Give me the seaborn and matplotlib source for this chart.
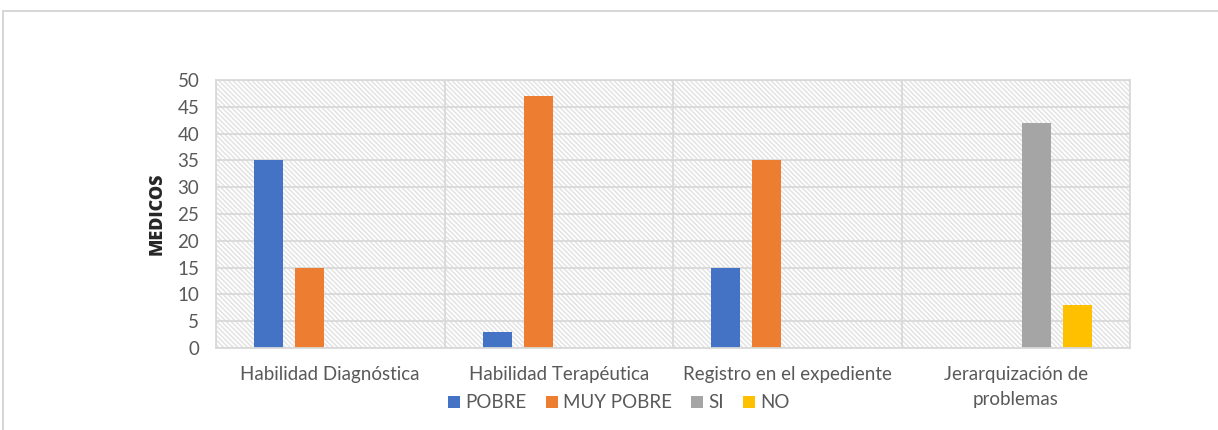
import matplotlib
matplotlib.use("Agg")
import matplotlib.pyplot as plt
import seaborn as sns
import pandas as pd
import numpy as np
from matplotlib.lines import Line2D

# ---- data ----
categories = ["Habilidad Diagnóstica", "Habilidad Terapéutica",
              "Registro en el expediente", "Jerarquización de\nproblemas"]
series = ["POBRE", "MUY POBRE", "SI", "NO"]
pobre = [35, 3, 15, 0]
muy_pobre = [15, 47, 35, 0]
si = [0, 0, 0, 42]
no = [0, 0, 0, 8]
colors = ["#4472C4", "#ED7D31", "#A5A5A5", "#FFC000"]
yticks = list(range(0, 55, 5))
ylabel = "MEDICOS"

rows = []
for name, vals in zip(series, [pobre, muy_pobre, si, no]):
    for c, v in zip(categories, vals):
        rows.append({"cat": c, "serie": name, "val": v})
df = pd.DataFrame(rows)

sns.set_theme(style="white")
plt.rcParams["font.family"] = ["Lato", "DejaVu Sans"]
plt.rcParams["hatch.linewidth"] = 1.1

W, H = 1218, 430
fig = plt.figure(figsize=(W / 100, H / 100), dpi=100)
fig.patch.set_facecolor("white")
ax = fig.add_axes([216 / W, 1 - 348 / H, (1130 - 216) / W, (348 - 80) / H])

# hatched background
ax.patch.set_facecolor("white")
ax.patch.set_edgecolor("#e3e3e3")
ax.patch.set_linewidth(0)
ax.patch.set_hatch("\\" * 7)

sns.barplot(data=df, x="cat", y="val", hue="serie", order=categories,
            hue_order=series, palette=colors, width=0.72, gap=0.295,
            errorbar=None, linewidth=0, saturation=1, ax=ax)

ax.set_ylim(0, 50)
ax.set_xlim(-0.5, len(categories) - 0.5)
ax.set_yticks(yticks)
ax.set_axisbelow(True)
grid_c = "#d9d9d9"
ax.yaxis.grid(True, color=grid_c, linewidth=1.3)
ax.set_xticks(np.arange(-0.5, len(categories), 1.0), minor=True)
ax.xaxis.grid(True, which="minor", color=grid_c, linewidth=1.3)
ax.xaxis.grid(False, which="major")
for s in ax.spines.values():
    s.set_visible(True)
    s.set_color(grid_c)
    s.set_linewidth(1.3)

ax.tick_params(axis="both", which="both", length=0, labelsize=13.5,
               labelcolor="#595959")
ax.tick_params(axis="x", pad=13)
ax.tick_params(axis="y", pad=12)
for lab in ax.get_xticklabels():
    lab.set_linespacing(1.55)
    lab.set_verticalalignment("top")

ax.set_xlabel("")
ax.set_ylabel(ylabel, fontsize=13, fontweight="heavy", color="#262626",
              family=["Open Sans", "DejaVu Sans"])
ax.yaxis.set_label_coords((166 - 216) / (1130 - 216), 0.5)

# legend
handles, labels = ax.get_legend_handles_labels()
ax.get_legend().remove()
fig.legend(handles, labels, loc="center", bbox_to_anchor=(619 / W, 1 - 403 / H),
           ncol=4, frameon=False, handlelength=0.64, handleheight=0.64,
           handletextpad=0.3, columnspacing=1.0, fontsize=13.5,
           labelcolor="#595959")

# outer chart border (partially visible)
fig.add_artist(Line2D([3 / W, 1.0], [1 - 11 / H, 1 - 11 / H],
                      transform=fig.transFigure, color="#d0d0d0", lw=1.2))
fig.add_artist(Line2D([3 / W, 3 / W], [0.0, 1 - 11 / H],
                      transform=fig.transFigure, color="#d0d0d0", lw=1.2))

fig.savefig("out.png", dpi=100, facecolor="white")
